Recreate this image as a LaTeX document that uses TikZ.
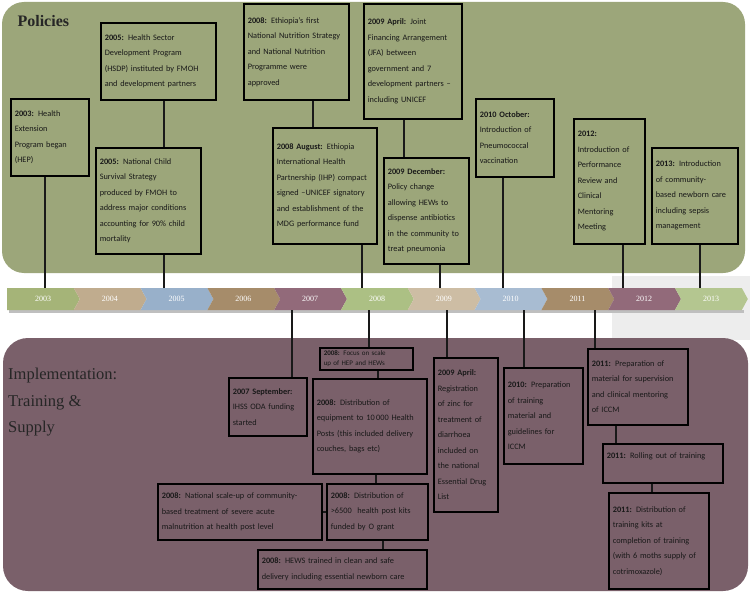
\documentclass[tikz,border=0pt]{standalone}
\usepackage{fontspec}
\setmainfont{Carlito}
\newfontfamily\titlefont{Liberation Serif}
\usepackage{tikz}
\definecolor{polgreen}{RGB}{156,166,122}
\definecolor{impmauve}{RGB}{122,96,106}
\definecolor{yrgreen}{RGB}{165,180,120}
\definecolor{yrtan}{RGB}{192,172,142}
\definecolor{yrblue}{RGB}{152,176,202}
\definecolor{yrbrown}{RGB}{166,140,106}
\definecolor{yrmauve}{RGB}{146,106,122}
\definecolor{yrlgreen}{RGB}{172,192,132}
\tikzset{%
    evbox/.style 2 args={%
        draw=black, line width=1.6pt, anchor=north west, align=left,
        text width=#1, minimum height=#2, inner xsep=4pt, inner ysep=3pt,
        text=black!90, font=\fontsize{8.3}{15.5}\selectfont
    },
    link/.style={line width=1.6pt, draw=black!90},
    yearlbl/.style={text=white, font=\titlefont\fontsize{8}{8}\selectfont}
}

\begin{document}
\begin{tikzpicture}[x=1pt,y=-1pt]
    \fill[white] (0,0) rectangle (750,602);
    \useasboundingbox (0,0) rectangle (750,602);
    \fill[black!7] (612,276) rectangle (750,340);
    % the two panels
    \fill[polgreen,rounded corners=22pt] (2,2) rectangle (745,273);
    \fill[impmauve,rounded corners=25pt] (3,338) rectangle (748,591);
    \node[anchor=base west,text=black!85,font=\titlefont\bfseries\fontsize{16}{18}\selectfont] (poltitle) at (14,27) {Policies};
    \node[anchor=north west,align=left,inner sep=0pt,text=black!85,font=\titlefont\fontsize{16.5}{26.5}\selectfont] (imptitle) at (8,368) {Implementation:\\Training \&\\Supply};
    % timeline bar
    \fill[black!25] (9,310) rectangle (744,312.5);
    \foreach \yr/\col [count=\k from 0] in {2003/yrgreen,2004/yrtan,2005/yrblue,2006/yrbrown,2007/yrmauve,2008/yrlgreen,2009/yrtan!80,2010/yrblue!85,2011/yrbrown,2012/yrmauve,2013/yrlgreen!90}{
        \pgfmathsetmacro\xa{7+66.8*\k}
        \pgfmathsetmacro\xb{\xa+66.8}
        \pgfmathsetmacro\notch{\k==0 ? 0 : 6}
        \fill[\col] (\xa,288) -- (\xb,288) -- (\xb+6,299) -- (\xb,310) -- (\xa,310) -- (\xa+\notch,299) -- cycle;
        \node[yearlbl] (y\yr) at (\xa+36,299) {\yr};
    }
    \coordinate (t03) at (45,288);
    \coordinate (t05) at (164,288);
    \coordinate (t08) at (362,288);
    \coordinate (t09) at (440,288);
    \coordinate (t10) at (503,288);
    \coordinate (t12) at (623,288);
    \coordinate (t13) at (700,288);
    \coordinate (b07) at (292,310);
    \coordinate (b08) at (369,310);
    \coordinate (b09) at (447,310);
    \coordinate (b10) at (524,310);
    \coordinate (b11) at (595,310);
    % policies
    \node[evbox={70pt}{77pt}] (hep) at (10,98) {\textbf{2003:} Health\\Extension\\Program began\\(HEP)};
    \node[evbox={107pt}{77pt}] (hsdp) at (100,22) {\textbf{2005:} Health Sector\\Development Program\\(HSDP) instituted by FMOH\\and development partners};
    \node[evbox={97pt}{106pt}] (ncss) at (95,147) {\textbf{2005:} National Child\\Survival Strategy\\produced by FMOH to\\address major conditions\\accounting for 90\% child\\mortality};
    \node[evbox={97pt}{96pt}] (nns) at (243,3) {\textbf{2008:} Ethiopia's first\\National Nutrition Strategy\\and National Nutrition\\Programme were\\approved};
    \node[evbox={96pt}{116pt}] (ihp) at (272,127) {\textbf{2008 August:} Ethiopia\\International Health\\Partnership (IHP) compact\\signed --UNICEF signatory\\and establishment of the\\MDG performance fund};
    \node[evbox={90pt}{115pt}] (jfa) at (363,3) {\textbf{2009 April:} Joint\\Financing Arrangement\\(JFA) between\\government and 7\\development partners --\\including UNICEF};
    \node[evbox={77pt}{106pt}] (hews) at (383,157) {\textbf{2009 December:}\\Policy change\\allowing HEWs to\\dispense antibiotics\\in the community to\\treat pneumonia};
    \node[evbox={70pt}{78pt}] (pcv) at (475,98) {\textbf{2010 October:}\\Introduction of\\Pneumococcal\\vaccination};
    \node[evbox={63pt}{125pt}] (prcm) at (573,118) {\textbf{2012:}\\Introduction of\\Performance\\Review and\\Clinical\\Mentoring\\Meeting};
    \node[evbox={78pt}{96pt}] (cbnc) at (651,147) {\textbf{2013:} Introduction\\of community-\\based newborn care\\including sepsis\\management};
    % implementation
    \node[evbox={70pt}{58pt}] (oda) at (228,377) {\textbf{2007 September:}\\IHSS ODA funding\\started};
    \node[evbox={85pt}{22pt},inner ysep=1pt,font=\fontsize{7}{9.5}\selectfont] (focus) at (319,347) {\textbf{2008:} Focus on scale\\up of HEP and HEWs};
    \node[evbox={106pt}{95pt}] (equip) at (312,378) {\textbf{2008:} Distribution of\\equipment to 10\,000 Health\\Posts (this included delivery\\couches, bags etc)};
    \node[evbox={156pt}{56pt}] (sam) at (157,483) {\textbf{2008:} National scale-up of community-\\based treatment of severe acute\\malnutrition at health post level};
    \node[evbox={93pt}{56pt}] (kits) at (326,483) {\textbf{2008:} Distribution of\\\textgreater6500\ \ health post kits\\funded by O grant};
    \node[evbox={161pt}{39pt}] (cdk) at (257,549) {\textbf{2008:} HEWS trained in clean and safe\\delivery including essential newborn care};
    \node[evbox={56pt}{154pt}] (zinc) at (433,357) {\textbf{2009 April:}\\Registration\\of zinc for\\treatment of\\diarrhoea\\included on\\the national\\Essential Drug\\List};
    \node[evbox={71pt}{96pt}] (iccm) at (503,367) {\textbf{2010:} Preparation\\of training\\material and\\guidelines for\\ICCM};
    \node[evbox={92pt}{76pt}] (mentor) at (587,348) {\textbf{2011:} Preparation of\\material for supervision\\and clinical mentoring\\of ICCM};
    \node[evbox={112pt}{39pt}] (roll) at (602,443) {\textbf{2011:} Rolling out of training\\\mbox{}};
    \node[evbox={92pt}{96pt}] (tkits) at (608,492) {\textbf{2011:} Distribution of\\training kits at\\completion of training\\(with 6 moths supply of\\cotrimoxazole)};
    % stems to the bar
    \draw[link] (t03) -- (t03 |- hep.south);
    \draw[link] (t05) -- (t05 |- ncss.south);
    \draw[link] (t08) -- (t08 |- ihp.south);
    \draw[link] (t09) -- (t09 |- hews.south);
    \draw[link] (t10) -- (t10 |- pcv.south);
    \draw[link] (t12) -- (t12 |- prcm.south);
    \draw[link] (t13) -- (t13 |- cbnc.south);
    \draw[link] (b07) -- (b07 |- oda.north);
    \draw[link] (b08) -- (b08 |- focus.north);
    \draw[link] (b09) -- (b09 |- zinc.north);
    \draw[link] (b10) -- (b10 |- iccm.north);
    \draw[link] (b11) -- (b11 |- mentor.north);
    % links between boxes
    \draw[link] (hsdp.south -| t05) -- (ncss.north -| t05);
    \draw[link] (nns.south -| 313,0) -- (ihp.north -| 313,0);
    \draw[link] (jfa.south -| 404,0) -- (hews.north -| 404,0);
    \draw[link] (focus.south -| 378,0) -- (equip.north -| 378,0);
    \draw[link] (equip.south -| 376,0) -- (kits.north -| 376,0);
    \draw[link] (kits.west) -- (sam.east);
    \draw[link] (kits.south -| 383,0) -- (cdk.north -| 383,0);
    \draw[link] (mentor.south -| 616,0) -- (roll.north -| 616,0);
    \draw[link] (roll.south -| 652,0) -- (tkits.north -| 652,0);
\end{tikzpicture}
\end{document}
